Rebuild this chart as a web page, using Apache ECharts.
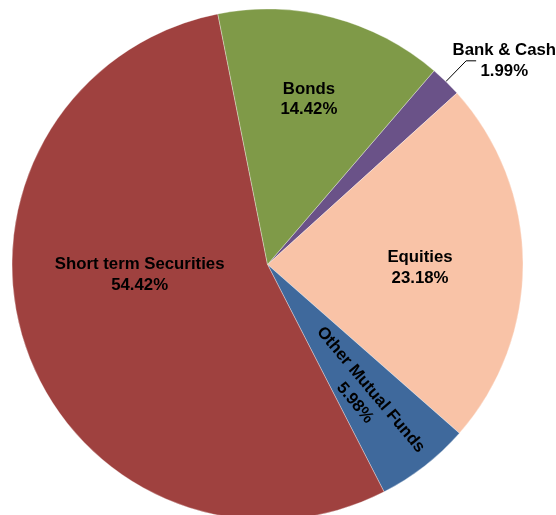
<!DOCTYPE html>
<html>
<head>
<meta charset="utf-8">
<script src="https://cdn.jsdelivr.net/npm/echarts@6/dist/echarts.min.js"></script>
<style>
html,body{margin:0;padding:0;background:#fff;}
#chart{width:556px;height:515px;}
</style>
</head>
<body>
<div id="chart"></div>
<script>
// Data (clockwise from the start angle)
const categories = ["Bank & Cash", "Equities", "Other Mutual Funds", "Short term Securities", "Bonds"];
const values = [1.99, 23.18, 5.98, 54.42, 14.42];

// Styles
const colors = ["#6A5288", "#F9C3A7", "#3F699C", "#9F413F", "#7F9A48"];
const labelOffsets = [null, [21.8, 4.2], [31.6, 7.0], [-4.4, -32.5], [8.1, -38.5]];
const labelRotate = [0, 0, -50, 0, 0];

const font = "'Liberation Sans', Arial, sans-serif";
const fs = 16.8;

const data = categories.map((name, i) => {
  const item = {
    name: name,
    value: values[i],
    itemStyle: { color: colors[i] }
  };
  if (i === 0) {
    item.label = {
      position: 'outside',
      distanceToLabelLine: -23.6,
      formatter: p => '{a|' + p.name + '}\n{a|' + p.value.toFixed(2) + '%}',
      rich: {
        a: { align: 'center', fontFamily: font, fontWeight: 'bold', fontSize: fs, lineHeight: 20.5, color: '#000' }
      }
    };
    item.labelLine = { show: true, length: 29, length2: 10, lineStyle: { color: '#000', width: 1 } };
  } else {
    item.label = { position: 'inside', rotate: labelRotate[i] };
    item.labelLine = { show: false };
  }
  return item;
});

const chart = echarts.init(document.getElementById('chart'), null, { renderer: 'canvas' });
chart.setOption({
  backgroundColor: '#ffffff',
  animation: false,
  series: [{
    type: 'pie',
    left: 0, top: 0, right: -300, bottom: 0,
    center: [267.5, 264.5],
    radius: [0, 255.5],
    startAngle: 49.3,
    clockwise: true,
    avoidLabelOverlap: false,
    data: data,
    itemStyle: { borderColor: 'rgba(255,255,255,0.55)', borderWidth: 0.6 },
    label: {
      show: true,
      fontFamily: font,
      fontWeight: 'bold',
      fontSize: fs,
      lineHeight: 20.5,
      color: '#000',
      formatter: p => p.name + '\n' + p.value.toFixed(2) + '%'
    },
    labelLayout: function (p) {
      const o = labelOffsets[p.dataIndex];
      return o ? { dx: o[0], dy: o[1] } : {};
    },
    emphasis: { disabled: true }
  }]
});
</script>
</body>
</html>
